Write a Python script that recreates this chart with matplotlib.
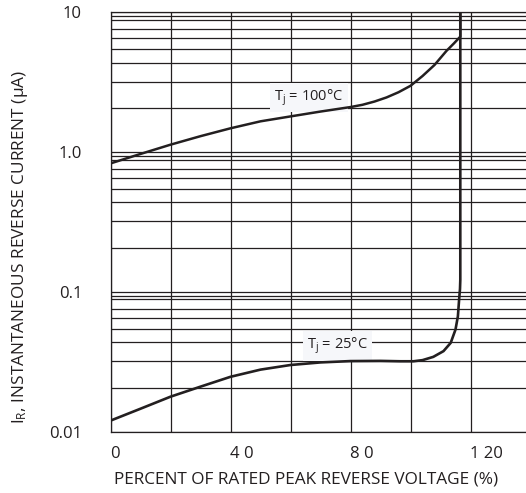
import matplotlib
matplotlib.use("Agg")
import matplotlib.pyplot as plt
import numpy as np

plt.rcParams['font.family'] = ['Open Sans', 'DejaVu Sans']
plt.rcParams['mathtext.default'] = 'regular'

# curve: percent of rated peak reverse voltage vs current (uA)
v_100 = [0, 10, 20, 30, 40, 50, 60, 70, 80, 84, 88, 92, 96, 100, 104, 108, 112,
         114.5, 116.6, 116.6]
i_100 = [0.83, 0.97, 1.13, 1.30, 1.48, 1.66, 1.80, 1.95, 2.10, 2.18, 2.30, 2.46,
         2.68, 2.98, 3.50, 4.20, 5.30, 6.00, 6.70, 10.0]

v_25 = [0, 10, 20, 30, 40, 50, 60, 70, 80, 90, 96.5, 101, 104, 107.6, 111, 113.4,
        115.0, 115.8, 116.2, 116.5, 116.6, 116.6]
i_25 = [0.0120, 0.0146, 0.0178, 0.0210, 0.0247, 0.0278, 0.0300, 0.0313, 0.0320,
        0.0321, 0.0319, 0.0319, 0.0325, 0.0343, 0.0377, 0.0432, 0.0538, 0.0670,
        0.0880, 0.105, 0.122, 10.0]

x_ticks = [0, 40, 80, 120]
x_labels = ['0', '4 0', '8 0', '1 20']
y_ticks = [0.01, 0.1, 1.0, 10]
y_labels = ['0.01', '0.1', '1.0', '10']

# the grid of the sheet is not a plain log grid, fractions of each decade top
grid_frac = [0.936, 0.884, 0.760, 0.652, 0.544, 0.436, 0.319, 0.206]

ink = '#231f20'

fig = plt.figure(figsize=(5.26, 4.93), dpi=100)
ax = fig.add_axes([110.5 / 526, 1 - 431.7 / 493, (526 - 110.5) / 526, (431.7 - 12.3) / 493])

ax.set_yscale('log')
ax.set_xlim(0, 138.5)
ax.set_ylim(0.01, 10)

minor_y = [d * f for d in (0.1, 1.0, 10.0) for f in grid_frac]
ax.set_yticks(y_ticks, y_labels)
ax.set_yticks(minor_y, minor=True)
ax.yaxis.set_minor_formatter(matplotlib.ticker.NullFormatter())
ax.set_xticks(x_ticks, x_labels)
ax.set_xticks([20, 60, 100], minor=True)
for lab in ax.get_xticklabels():
    lab.set_horizontalalignment('left')

ax.grid(True, which='both', color=ink, lw=0.9)
ax.tick_params(which='both', length=0, labelsize=12, colors=ink)
ax.tick_params(axis='y', pad=20.5)
ax.tick_params(axis='x', pad=10)
for s in ['left', 'bottom', 'top']:
    ax.spines[s].set_color(ink)
    ax.spines[s].set_linewidth(0.9)
ax.spines['right'].set_visible(False)

ax.plot(v_100, i_100, color=ink, lw=1.8, solid_capstyle='butt', zorder=5)
ax.plot(v_25, i_25, color=ink, lw=1.9, solid_capstyle='butt', zorder=5)

box = dict(boxstyle='square,pad=0.3', fc='#f6f7fa', ec='none')
ax.text(66.2, 2.45, 'T$_{j}$ = 100°C', fontsize=10.5, ha='center', va='center',
        color=ink, bbox=box, zorder=4)
ax.text(75.7, 0.041, 'T$_{j}$ = 25°C', fontsize=10.5, ha='center', va='center',
        color=ink, bbox=box, zorder=4)

fig.text(306 / 526, 1 - 480 / 493, 'PERCENT OF RATED PEAK REVERSE VOLTAGE (%)',
         fontsize=12.4, ha='center', va='center', color=ink)
fig.text(20 / 526, 1 - 247 / 493, 'I$_{R}$, INSTANTANEOUS REVERSE CURRENT (μA)',
         fontsize=12.4, ha='center', va='center', rotation=90, color=ink)

fig.savefig('out.png', dpi=100)
